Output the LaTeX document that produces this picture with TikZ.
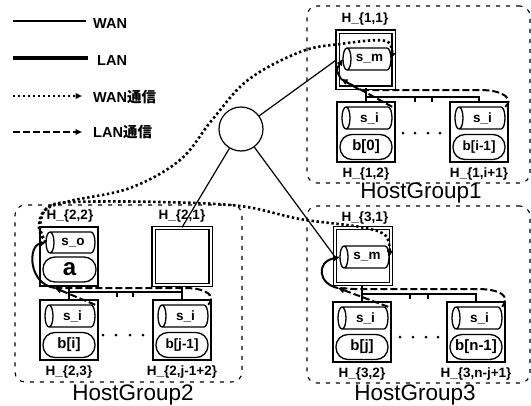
\documentclass[tikz,border=0pt]{standalone}
\usepackage{fontspec}
\setmainfont{Liberation Sans}
\newfontfamily\cjk{Noto Sans CJK JP}
\usetikzlibrary{arrows.meta}
\tikzset{
 hostbox/.style={draw, line width=1.4pt, minimum width=58pt, minimum height=60pt, inner sep=0pt},
 masterbox/.style={draw, line width=1.2pt, double, double distance=2pt, minimum width=56pt, minimum height=56pt, inner sep=0pt},
 cylline/.style={line width=1.3pt},
 cyltext/.style={inner sep=0pt, font=\fontsize{13.5}{15}\selectfont\bfseries},
 bnode/.style={draw, line width=1.3pt, rounded corners=12pt, minimum width=52pt, minimum height=25pt, inner sep=0pt, font=\fontsize{15}{17}\selectfont\bfseries},
 hlabel/.style={anchor=base, inner sep=0pt, font=\fontsize{13.5}{16}\selectfont\bfseries},
 glabel/.style={anchor=base, inner sep=0pt, font=\fontsize{22.5}{26}\selectfont},
 grp/.style={draw, line width=1.1pt, dash pattern=on 4pt off 6pt, rounded corners=10pt, inner sep=0pt},
 wanline/.style={line width=1.2pt},
 lanbus/.style={line width=2.4pt},
 lancomm/.style={line width=2pt, dash pattern=on 7pt off 3pt},
 lansolid/.style={line width=2pt},
 wancomm/.style={line width=2.6pt, dash pattern=on 2.4pt off 2.6pt},
 arrowend/.style={-{Triangle[length=6.5pt,width=5.5pt]}},
 dotpt/.style={circle, fill, inner sep=0pt, minimum size=3pt},
 legtext/.style={anchor=base west, inner sep=0pt, font=\fontsize{14.5}{16}\selectfont\bfseries},
}
\newcommand\cylnd[6]{%
 \pgfmathsetmacro\cyr{((#5)-(#3))/2}%
 \draw[cylline] ({(#2)+4},{#3}) -- ({(#4)-4},{#3}) arc(90:-90:4pt and \cyr pt) -- ({(#2)+4},{#5}) arc(-90:-270:4pt and \cyr pt) arc(90:-90:4pt and \cyr pt);
 \node[cyltext, minimum width={(#4)-(#2)}, minimum height={(#5)-(#3)}] (#1) at ({((#2)+(#4))/2},{((#3)+(#5))/2}) {\hspace*{5pt}#6};
}
\newcommand\hostnd[7]{%
 \node[hostbox] (#1) at ({(#2)+29},{(#3)+30}) {};
 \cylnd{#1c}{(#2)+5}{(#3)+5}{(#2)+55}{(#3)+27}{#4}
 \node[bnode, font=\fontsize{#7}{17}\selectfont\bfseries] (#1b) at ({(#2)+29},{(#3)+45}) {#5};
 \node[hlabel] (#1l) at ({(#2)+29},{(#3)+75}) {#6};
}
\begin{document}
\begin{tikzpicture}[x=1pt,y=-1pt]
\useasboundingbox (0,0) rectangle (531,405);
% legend
\coordinate (l1a) at (13,21); \coordinate (l1b) at (86,21);
\draw[wanline, line width=1.4pt] (l1a) -- (l1b);
\node[legtext] (l1t) at (93,28) {WAN};
\coordinate (l2a) at (13,58); \coordinate (l2b) at (88,58);
\draw[lanbus, line width=3.2pt] (l2a) -- (l2b);
\node[legtext] (l2t) at (97,65) {LAN};
\coordinate (l3a) at (13,96); \coordinate (l3b) at (82,96);
\draw[wancomm, arrowend] (l3a) -- (l3b);
\node[legtext] (l3t) at (93,102) {WAN{\cjk\bfseries 通信}};
\coordinate (l4a) at (13,132); \coordinate (l4b) at (82,132);
\draw[lancomm, line width=2.4pt, arrowend] (l4a) -- (l4b);
\node[legtext] (l4t) at (93,137) {LAN{\cjk\bfseries 通信}};
% groups
\node[grp, minimum width=223pt, minimum height=177pt] (g1) at (418.5,94.5) {};
\node[grp, minimum width=227pt, minimum height=177pt] (g2) at (128.5,293.5) {};
\node[grp, minimum width=223pt, minimum height=177pt] (g3) at (418.5,294.5) {};
\node[glabel] (g1l) at (421,198) {HostGroup1};
\node[glabel] (g2l) at (133,400) {HostGroup2};
\node[glabel] (g3l) at (415,400) {HostGroup3};
% hub
\node[draw, circle, line width=1.2pt, minimum size=44pt, inner sep=0pt] (hub) at (241,129) {};
% masters
\node[masterbox] (h11) at (365.5,59.5) {};
\cylnd{h11c}{343}{48}{391}{70}{s\_m}
\node[hlabel] (h11l) at (365,22) {H\_\{1,1\}};
\node[masterbox] (h31) at (363,256) {};
\cylnd{h31c}{340}{246}{389}{268}{s\_m}
\node[hlabel] (h31l) at (365,221) {H\_\{3,1\}};
\node[masterbox, minimum width=57pt, minimum height=57pt] (h21) at (182,256.5) {};
\node[hlabel] (h21l) at (182,219) {H\_\{2,1\}};
\node[hostbox, minimum height=59pt] (h22) at (69,256.5) {};
\cylnd{h22c}{46}{232}{95}{253}{s\_o}
\node[bnode, minimum width=53pt, font=\fontsize{24}{26}\selectfont\bfseries] (h22b) at (69.5,269.5) {a};
\node[hlabel] (h22l) at (70,219) {H\_\{2,2\}};
% other hosts
\hostnd{h12}{337}{102}{s\_i}{b[0]}{H\_\{1,2\}}{15}
\hostnd{h1n}{450}{102}{s\_i}{b[i-1]}{H\_\{1,i+1\}}{13.5}
\hostnd{h23}{40}{300}{s\_i}{b[i]}{H\_\{2,3\}}{15}
\hostnd{h2n}{153}{300}{s\_i}{b[j-1]}{H\_\{2,j-1+2\}}{13.5}
\hostnd{h32}{333}{302}{s\_i}{b[j]}{H\_\{3,2\}}{15}
\hostnd{h3n}{447}{302}{s\_i}{b[n-1]}{H\_\{3,n-j+1\}}{15}
% WAN links
\draw[wanline] (hub) -- (h11.west);
\draw[wanline] (hub) -- (h21.north);
\draw[wanline] (hub) -- (h31.west);
% LAN buses
\coordinate (bus1) at (0,97);
\coordinate (bus2) at (0,292);
\coordinate (bus3) at (0,294);
\draw[lanbus] (h11.south -| h12.north) -- (h12.north);
\draw[lanbus] (h12.north |- bus1) -- (h1n.north |- bus1) -- (h1n.north);
\draw[lanbus] (h22.south -| h23.north) -- (h23.north);
\draw[lanbus] (h21.south -| h2n.north) -- (h2n.north);
\draw[lanbus] (h23.north |- bus2) -- (h2n.north |- bus2);
\draw[lanbus] (h31.south -| h32.north) -- (h32.north);
\draw[lanbus] (h32.north |- bus3) -- (h3n.north |- bus3) -- (h3n.north);
\foreach \x/\y [count=\i] in {415/97,432/97,117/292,133/292,410/294,428/294}{
  \coordinate (tk\i) at (\x,\y);
  \draw[line width=1.8pt] (tk\i) -- ++(0,5);
}
% dots
\foreach \x [count=\i] in {403,415,428,440} \node[dotpt] (da\i) at (\x,133) {};
\foreach \x [count=\i] in {103,116,130,143} \node[dotpt] (db\i) at (\x,335) {};
\foreach \x [count=\i] in {400,413,426,438} \node[dotpt] (dc\i) at (\x,337) {};
% LAN communication
\coordinate (p1) at (341,79);
\draw[lancomm, arrowend] (h12c.north east) -- (p1);
\draw[lancomm] (h1nc.north east) .. controls (514,100) and (505,90) .. (480,90) -- (360,90) -- (p1);
\draw[lansolid, arrowend] (p1) .. controls (336,70) .. (h11c.west);
\coordinate (p2) at (55,288);
\draw[lancomm, arrowend] (h23c.north east) -- (p2);
\draw[lancomm] (h2nc.north east) .. controls (217,296) and (206,288) .. (185,288) -- (70,288) -- (p2);
\draw[lansolid, arrowend] (p2) .. controls (28,284) and (28,246) .. (h22c.west);
\coordinate (p3) at (338,288);
\draw[lancomm, arrowend] (h32c.north east) -- (p3);
\draw[lancomm] (h3nc.north east) .. controls (511,296) and (500,289) .. (477,289) -- (355,289) -- (p3);
\draw[lansolid, arrowend] (p3) .. controls (318,284) and (316,262) .. (h31c.west);
% WAN communication
\draw[wancomm, arrowend] plot[smooth, tension=0.6] coordinates {(h22c.west) (39,228) (45,210) (70,201) (130,188) (180,160) (212,120) (248,80) (300,52) (340,44) (386,41) (h11c.east)};
\draw[wancomm, arrowend] plot[smooth, tension=0.6] coordinates {(h22c.west) (40,226) (48,207) (75,202) (160,202) (240,206) (300,219) (360,227) (386,236) (h31c.east)};
\end{tikzpicture}
\end{document}
